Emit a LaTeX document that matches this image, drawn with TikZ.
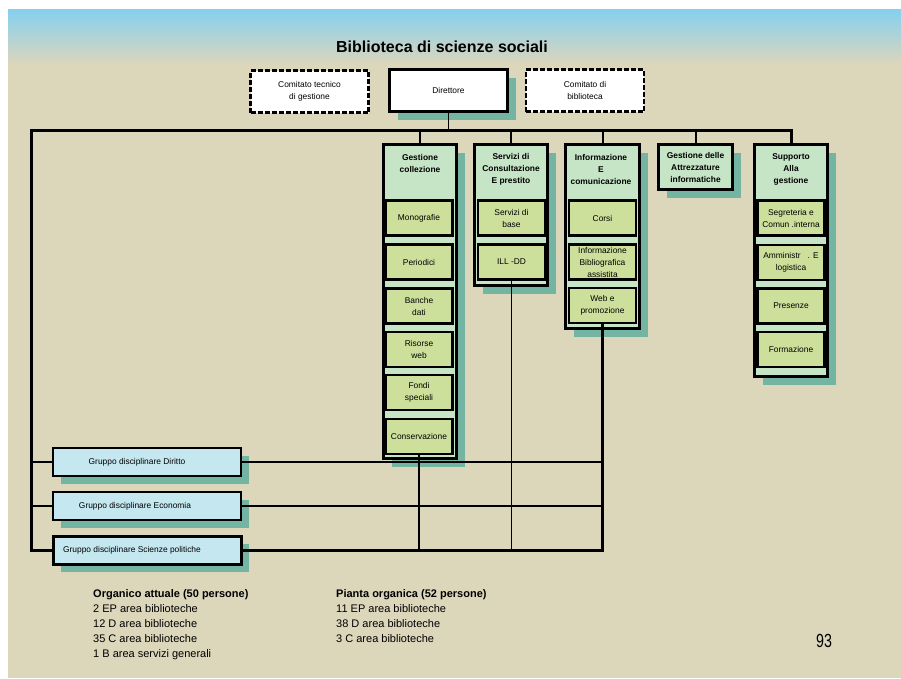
\documentclass[tikz,border=0pt]{standalone}
\usepackage{fontspec}
\setmainfont{Liberation Sans}
\usepackage{graphicx}
\usetikzlibrary{shadows}
\definecolor{bgtan}{RGB}{220,214,187}
\definecolor{skyb}{RGB}{132,208,240}
\definecolor{shadowc}{RGB}{115,180,163}
\definecolor{headg}{RGB}{198,228,198}
\definecolor{innerg}{RGB}{204,224,156}
\definecolor{grpb}{RGB}{196,231,240}
\newcommand\boxfnt{\fontsize{8.4}{12}\selectfont}
\newcommand\boxbld{\bfseries\fontsize{8.4}{12}\selectfont}
\newcommand\txtfnt{\fontsize{11}{15}\selectfont}
\tikzset{
  shd/.style={general shadow={fill=shadowc, shadow xshift=8pt, shadow yshift=-8pt}},
  colbox/.style={draw=black, line width=3pt, fill=headg, minimum width=73pt, inner sep=0pt, shd},
  innerbox/.style={draw=black, line width=2.8pt, fill=innerg, minimum width=67pt, minimum height=35pt, inner sep=0pt, align=center, font=\boxfnt},
  headtxt/.style={align=center, font=\boxbld, inner sep=0pt},
  dashbox/.style={draw=black, line width=2.5pt, dash pattern=on 5pt off 2pt, fill=white, minimum width=118pt, minimum height=42pt, inner sep=0pt, align=center, font=\boxfnt},
  dirbox/.style={draw=black, line width=3pt, fill=white, minimum width=118pt, minimum height=42pt, inner sep=0pt, align=center, font=\boxfnt, shd},
  grpbox/.style={draw=black, line width=2pt, fill=grpb, minimum width=188pt, minimum height=28pt, inner sep=0pt, shd},
  grptxt/.style={font=\boxfnt, inner sep=0pt},
  busline/.style={draw=black, line width=3pt, line join=miter},
  tickline/.style={draw=black, line width=2pt},
  thinline/.style={draw=black, line width=1.6pt},
  btxt/.style={anchor=base west, font=\txtfnt, inner sep=0pt}
}
\begin{document}
\begin{tikzpicture}[x=1pt,y=-1pt]
\useasboundingbox (0,0) rectangle (901,678);
\fill[white] (0,0) rectangle (901,678);
\fill[bgtan] (8,9) rectangle (901,678);
\shade[top color=skyb, bottom color=bgtan] (8,9) rectangle (901,64);

\node[font=\bfseries\fontsize{16}{18}\selectfont, inner sep=0pt] (title) at (442,47) {Biblioteca di scienze sociali};

% top boxes
\node[dashbox] (ctg) at (309.5,91.5) {Comitato tecnico\\di gestione};
\node[dirbox] (dir) at (448.5,90.5) {Direttore};
\node[dashbox] (cb) at (585,90.5) {Comitato di\\biblioteca};

% columns
\node[colbox, minimum height=314pt] (gc) at (420,301.5) {};
\node[colbox, minimum height=141pt] (sc) at (511,215) {};
\node[colbox, minimum height=184pt, minimum width=74pt] (ic) at (602.5,236.5) {};
\node[colbox, minimum height=45pt, minimum width=74pt] (ga) at (695.5,167) {};
\node[colbox, minimum height=232pt] (sa) at (791,260.5) {};

\node[headtxt] (gch) at (420,163) {Gestione\\collezione};
\node[headtxt] (sch) at (511,169) {Servizi di\\Consultazione\\E prestito};
\node[headtxt] (ich) at (601,169) {Informazione\\E\\comunicazione};
\node[headtxt] (gah) at (695.5,167) {Gestione delle\\Attrezzature\\informatiche};
\node[headtxt] (sah) at (791,169) {Supporto\\Alla\\gestione};

% inner boxes
\node[innerbox] (mono) at (419,218) {Monografie};
\node[innerbox] (peri) at (419,262) {Periodici};
\node[innerbox] (banc) at (419,306) {Banche\\dati};
\node[innerbox] (riso) at (419,349.5) {Risorse\\web};
\node[innerbox] (fond) at (419,392.5) {Fondi\\speciali};
\node[innerbox] (cons) at (419,436.5) {Conservazione};

\node[innerbox] (sbase) at (511.5,218) {Servizi di\\base};
\node[innerbox] (ill) at (511.5,262) {ILL -DD};

\node[innerbox] (corsi) at (602.5,218) {Corsi};
\node[innerbox] (iba) at (602.5,262) {Informazione\\Bibliografica\\assistita};
\node[innerbox] (web) at (602.5,305.5) {Web e\\promozione};

\node[innerbox] (segr) at (791,218) {Segreteria e\\Comun .interna};
\node[innerbox] (amm) at (791,262.5) {Amministr\ \ \ . E\\logistica};
\node[innerbox] (pres) at (791,306) {Presenze};
\node[innerbox] (form) at (791,349.5) {Formazione};

% group boxes
\node[grpbox] (gdi) at (147,462) {};
\node[grpbox] (gec) at (147,506) {};
\node[grpbox, line width=3pt] (gsp) at (147,550) {};
\node[grptxt] (tdi) at (137,462) {Gruppo disciplinare Diritto};
\node[grptxt] (tec) at (135,506) {Gruppo disciplinare Economia};
\node[grptxt] (tsp) at (132,550) {Gruppo disciplinare Scienze politiche};

% connectors
\coordinate (busL) at (31,130);
\coordinate (busR) at (791,130);
\draw[thinline] (dir.south) -- (dir.south |- busL);
\draw[busline] (gsp.west) -- (busL |- gsp.west) -- (busL) -- (busR) -- (sa.north);
\draw[tickline] (gc.north) -- (gc.north |- busL);
\draw[tickline] (sc.north) -- (sc.north |- busL);
\draw[tickline] (ic.north) -- (ic.north |- busL);
\draw[tickline] (ga.north) -- (ga.north |- busL);
\draw[thinline] (busL |- gdi.west) -- (gdi.west);
\draw[thinline] (busL |- gec.west) -- (gec.west);
\draw[thinline] (gdi.east) -- (gdi.east -| web.south);
\draw[thinline] (gec.east) -- (gec.east -| web.south);
\draw[thinline] (cons.south) -- (cons.south |- gsp.east);
\draw[thinline] (ill.south) -- (ill.south |- gsp.east);
\draw[busline] (gsp.east) -- (gsp.east -| web.south) -- (web.south);

% bottom text
\node[btxt, font=\bfseries\txtfnt] (oa) at (93,597) {Organico attuale (50 persone)};
\node[btxt] (oa1) at (93,612) {2 EP area biblioteche};
\node[btxt] (oa2) at (93,627) {12 D area biblioteche};
\node[btxt] (oa3) at (93,642) {35 C area biblioteche};
\node[btxt] (oa4) at (93,657) {1 B area servizi generali};
\node[btxt, font=\bfseries\txtfnt] (po) at (336,597) {Pianta organica (52 persone)};
\node[btxt] (po1) at (336,612) {11 EP area biblioteche};
\node[btxt] (po2) at (336,627) {38 D area biblioteche};
\node[btxt] (po3) at (336,642) {3 C area biblioteche};

\node[font=\fontsize{19}{20}\selectfont, inner sep=0pt, anchor=base west] (pg) at (816,647) {\scalebox{0.75}[1]{93}};
\end{tikzpicture}
\end{document}
